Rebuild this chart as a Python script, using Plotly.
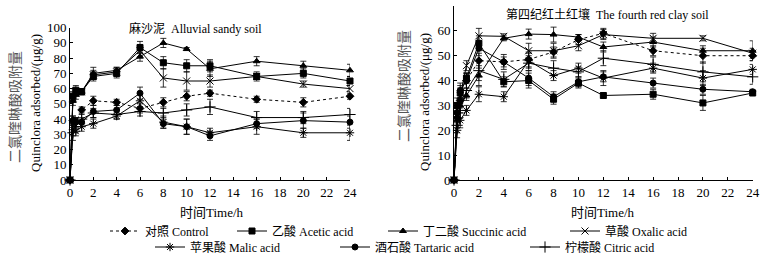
import plotly.graph_objects as go

# ---------------- data ----------------
time_h = [0, 0.25, 0.5, 1, 2, 4, 6, 8, 10, 12, 16, 20, 24]

series_names = ["对照 Control", "乙酸 Acetic acid", "丁二酸 Succinic acid", "草酸 Oxalic acid",
                "苹果酸 Malic acid", "酒石酸 Tartaric acid", "柠檬酸 Citric acid"]

# Alluvial sandy soil (left panel)
control_L = [0, 39, 38, 46, 52, 51, 47, 51, 55, 57, 53, 51, 55]
acetic_L = [0, 55, 59, 58, 68, 70, 87, 77, 75, 75, 68, 70, 65]
succinic_L = [0, 52, 56, 58, 70, 72, 81, 90, 86, 73, 78, 75, 72]
oxalic_L = [0, 54, 57, 58, 69, 71, 85, 67, 65, 65, 68, 63, 60]
malic_L = [0, 33, 32, 35, 37, 42, 52, 38, 35, 31, 35, 31, 31]
tartaric_L = [0, 39, 38, 38, 45, 46, 57, 37, 35, 29, 37, 39, 38]
citric_L = [0, 31, 37, 40, 44, 43, 45, 44, 46, 48, 41, 41, 43]

err_control_L = [0, 3, 3, 2, 3, 2, 3, 3, 3, 2, 2, 3, 2]
err_acetic_L = [0, 3, 3, 2, 3, 3, 4, 4, 4, 4, 3, 3, 3]
err_succinic_L = [0, 3, 3, 2, 4, 2, 3, 3, 1, 5, 3, 3, 4]
err_oxalic_L = [0, 3, 2, 2, 3, 3, 4, 6, 6, 4, 2, 2, 2]
err_malic_L = [0, 4, 3, 3, 3, 2, 4, 4, 5, 3, 5, 3, 5]
err_tartaric_L = [0, 3, 3, 3, 4, 3, 4, 3, 5, 3, 3, 5, 4]
err_citric_L = [0, 5, 3, 3, 3, 3, 3, 3, 4, 5, 4, 4, 4]

# The fourth red clay soil (right panel)
control_R = [0, 25, 32, 40, 48, 47.5, 48.5, 51.5, 56.5, 59, 52, 50, 50]
acetic_R = [0, 30, 35, 41, 55, 39.5, 40, 32.5, 39, 34, 34.5, 31, 35]
succinic_R = [0, 24, 30, 34, 42, 57, 58.7, 58.5, 57.5, 53.5, 55.5, 52, 52]
oxalic_R = [0, 28, 34, 46, 58, 57.8, 52, 52, 54, 58.5, 57, 57, 51]
malic_R = [0, 20, 24, 28, 34.5, 33.5, 48, 42, 45, 41, 45, 41, 44.5]
tartaric_R = [0, 27, 36, 40, 53, 47.5, 41, 33.5, 39.5, 41.5, 39, 36.5, 35.5]
citric_R = [0, 22, 28, 36, 44, 40.5, 47, 45, 43.5, 49, 46.5, 43.5, 41.5]

err_control_R = [0, 3, 3, 3, 3, 2, 3, 2, 2, 2, 2, 3, 2]
err_acetic_R = [0, 3, 3, 2, 3, 2, 3, 2, 2, 1, 2, 3, 1]
err_succinic_R = [0, 3, 3, 2, 4, 1, 2, 3, 1, 2, 2, 2, 4]
err_oxalic_R = [0, 3, 3, 2, 3, 1, 3, 3, 2, 2, 2, 1, 2]
err_malic_R = [0, 3, 3, 2, 3, 2, 3, 2, 2, 3, 2, 3, 2]
err_tartaric_R = [0, 3, 3, 3, 3, 3, 3, 2, 2, 2, 2, 2, 1]
err_citric_R = [0, 3, 3, 3, 4, 3, 3, 3, 2, 3, 3, 4, 3]

left_vals = [control_L, acetic_L, succinic_L, oxalic_L, malic_L, tartaric_L, citric_L]
left_errs = [err_control_L, err_acetic_L, err_succinic_L, err_oxalic_L, err_malic_L, err_tartaric_L, err_citric_L]
right_vals = [control_R, acetic_R, succinic_R, oxalic_R, malic_R, tartaric_R, citric_R]
right_errs = [err_control_R, err_acetic_R, err_succinic_R, err_oxalic_R, err_malic_R, err_tartaric_R, err_citric_R]

x_ticks = [0, 2, 4, 6, 8, 10, 12, 14, 16, 18, 20, 22, 24]
y_ticks_L = [0, 10, 20, 30, 40, 50, 60, 70, 80, 90, 100]
y_ticks_R = [0, 10, 20, 30, 40, 50, 60, 70]

# ---------------- styles ----------------
FONT = "Liberation Serif, Noto Sans CJK SC, serif"
W, H = 764, 256
symbols = ["diamond", "square", "triangle-up", "x-thin-open", "asterisk-open", "circle", "cross-thin-open"]
msizes = [6, 6, 6, 7, 7, 6, 8]
dashes = ["dot", "solid", "solid", "solid", "solid", "solid", "solid"]
legend_pos = [(105, 231), (232, 231), (383, 231), (565, 231),
              (150, 247), (335, 247), (525, 247)]
legend_ids = ["legend", "legend2", "legend3", "legend4", "legend5", "legend6", "legend7"]

fig = go.Figure()

for panel, (vals, errs, xa, ya) in enumerate([(left_vals, left_errs, "x", "y"),
                                              (right_vals, right_errs, "x2", "y2")]):
    for i in range(7):
        fig.add_trace(go.Scatter(
            x=time_h, y=vals[i], xaxis=xa, yaxis=ya,
            mode="lines+markers", name=series_names[i],
            line=dict(color="black", width=1, dash=dashes[i]),
            marker=dict(symbol=symbols[i], size=msizes[i], color="black",
                        line=dict(color="black", width=1)),
            error_y=dict(type="data", array=errs[i], visible=True,
                         color="black", thickness=0.8, width=3),
            cliponaxis=False,
            showlegend=(panel == 0),
            legend=legend_ids[i],
        ))

def px_x(p):
    return p / W

def px_y(p):
    return (H - p) / H

axis_common = dict(showline=True, linecolor="black", linewidth=1, ticks="inside",
                   ticklen=3, tickcolor="black", showgrid=False, zeroline=False,
                   automargin=False,
                   tickfont=dict(family=FONT, size=13, color="black"))

layout = dict(
    width=W, height=H, margin=dict(l=0, r=0, t=0, b=0, autoexpand=False),
    paper_bgcolor="white", plot_bgcolor="white",
    font=dict(family=FONT, size=12, color="black"),
    xaxis=dict(domain=[px_x(70), px_x(350)], range=[0, 24], tickvals=x_ticks,
               anchor="y", **axis_common),
    yaxis=dict(domain=[px_y(180), px_y(27.7)], range=[0, 100], tickvals=y_ticks_L,
               anchor="x", **axis_common),
    xaxis2=dict(domain=[px_x(454), px_x(752.7)], range=[0, 24], tickvals=x_ticks,
                anchor="y2", **axis_common),
    yaxis2=dict(domain=[px_y(180), px_y(6)], range=[0, 70], tickvals=y_ticks_R,
                anchor="x2", **axis_common),
)

for lid, (lx, ly) in zip(legend_ids, legend_pos):
    layout[lid] = dict(x=px_x(lx), y=px_y(ly), xanchor="left", yanchor="middle",
                       xref="container", yref="container",
                       orientation="h", bgcolor="rgba(0,0,0,0)", borderwidth=0,
                       font=dict(family=FONT, size=12, color="black"),
                       itemwidth=30)

fig.update_layout(**layout)

annos = [
    dict(text="麻沙泥  Alluvial sandy soil", x=px_x(195), y=px_y(28), size=12),
    dict(text="第四纪红土红壤  The fourth red clay soil", x=px_x(607), y=px_y(14), size=12),
    dict(text="时间Time/h", x=px_x(212), y=px_y(212), size=13),
    dict(text="时间Time/h", x=px_x(603), y=px_y(212), size=13),
    dict(text="二氯喹啉酸吸附量", x=px_x(15), y=px_y(107), size=14, angle=-90, color="#555555"),
    dict(text="Quinclora adsorbed/(μg/g)", x=px_x(35), y=px_y(103), size=13, angle=-90),
    dict(text="二氯喹啉酸吸附量", x=px_x(404), y=px_y(86), size=14, angle=-90, color="#555555"),
    dict(text="Quinclora adsorbed/(μg/g)", x=px_x(424), y=px_y(102), size=13, angle=-90),
]
for a in annos:
    fig.add_annotation(text=a["text"], x=a["x"], y=a["y"], xref="paper", yref="paper",
                       showarrow=False, xanchor="center", yanchor="middle",
                       textangle=a.get("angle", 0),
                       font=dict(family=FONT, size=a["size"], color=a.get("color", "black")))

fig.write_html("out.html", config={"displayModeBar": False},
               post_script="document.body.style.margin='0px';")
